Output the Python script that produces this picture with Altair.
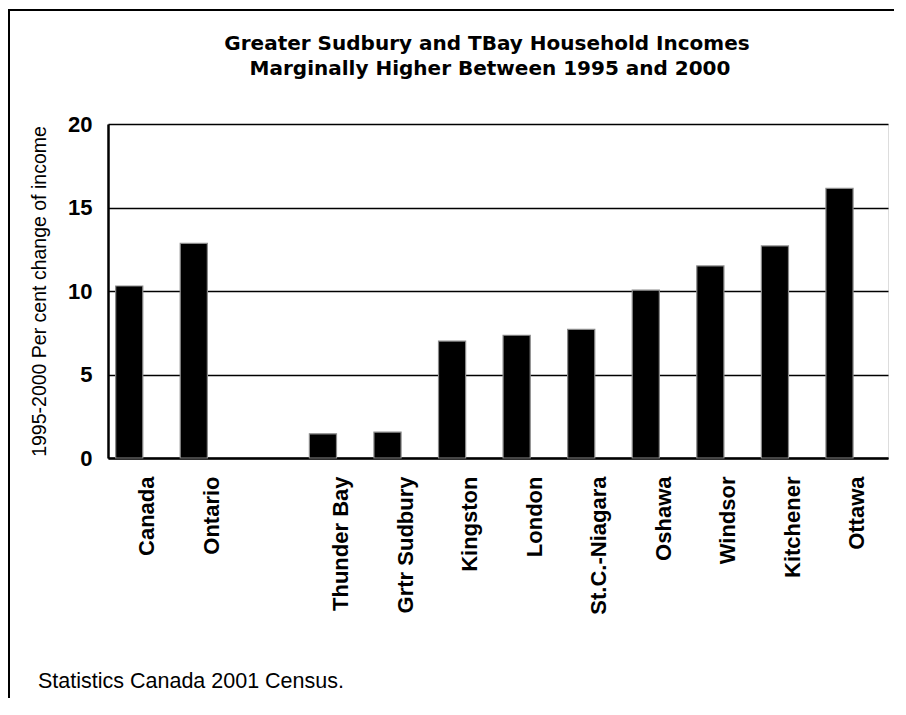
import altair as alt
import pandas as pd

# Data
categories = ["Canada", "Ontario", "Thunder Bay", "Grtr Sudbury", "Kingston",
              "London", "St.C.-Niagara", "Oshawa", "Windsor", "Kitchener", "Ottawa"]
values = [10.3, 12.85, 1.45, 1.55, 7.0, 7.35, 7.7, 10.05, 11.5, 12.7, 16.15]
# Category slots on the axis (one empty gap slot after Ontario)
slot_order = ["Canada", "Ontario", " ", "Thunder Bay", "Grtr Sudbury", "Kingston",
              "London", "St.C.-Niagara", "Oshawa", "Windsor", "Kitchener", "Ottawa"]
y_ticks = [0, 5, 10, 15, 20]

title_lines = ["Greater Sudbury and TBay Household Incomes",
               "Marginally Higher Between 1995 and 2000"]
y_title = "1995-2000 Per cent change of income"
footer = "Statistics Canada 2001 Census."

df = pd.DataFrame({"region": categories, "value": values})

W, H = 780, 334

x_enc = alt.X(
    "region:N",
    sort=slot_order,
    scale=alt.Scale(domain=slot_order, paddingInner=0.58, paddingOuter=0.33, align=0.18),
    axis=alt.Axis(
        title=None,
        labelAngle=270,
        labelFont="Liberation Sans",
        labelFontSize=22,
        labelFontWeight="bold",
        labelColor="black",
        labelPadding=18,
        labelOffset=18,
        ticks=False,
        domain=True,
        domainColor="black",
        domainWidth=2.5,
        labelLimit=300,
    ),
)

y_enc = alt.Y(
    "value:Q",
    scale=alt.Scale(domain=[0, 20], nice=False),
    axis=alt.Axis(
        values=y_ticks,
        title=y_title,
        titleFont="Liberation Sans",
        titleFontSize=19.5,
        titleFontWeight="normal",
        titleColor="black",
        titlePadding=18,
        labelFont="Liberation Sans",
        labelFontSize=22,
        labelFontWeight="bold",
        labelColor="black",
        labelPadding=16,
        ticks=False,
        domain=True,
        domainColor="black",
        domainWidth=2.5,
        grid=True,
        gridColor="black",
        gridWidth=1.5,
    ),
)

bars = alt.Chart(df).mark_bar(
    color="black", stroke="#8a8a8a", strokeWidth=1.2
).encode(x=x_enc, y=y_enc)

one = pd.DataFrame({"k": [0]})
frame_top = alt.Chart(one).mark_rule(color="black", strokeWidth=2).encode(
    x=alt.value(-99), x2=alt.value(900), y=alt.value(-114)
)
frame_left = alt.Chart(one).mark_rule(color="black", strokeWidth=2).encode(
    x=alt.value(-99), y=alt.value(-115), y2=alt.value(700)
)
title1 = alt.Chart(one).mark_text(
    text=title_lines[0], font="DejaVu Sans", fontSize=20, fontWeight="bold",
    align="center", baseline="alphabetic", color="black"
).encode(x=alt.value(379), y=alt.value(-74))
title2 = alt.Chart(one).mark_text(
    text=title_lines[1], font="DejaVu Sans", fontSize=20, fontWeight="bold",
    align="center", baseline="alphabetic", color="black"
).encode(x=alt.value(382), y=alt.value(-49))
foot = alt.Chart(one).mark_text(
    text=footer, font="Liberation Sans", fontSize=21.5, align="left",
    baseline="alphabetic", color="black"
).encode(x=alt.value(-70), y=alt.value(564))

chart = alt.layer(bars, frame_top, frame_left, title1, title2, foot).properties(
    width=W,
    height=H,
    padding={"left": 100, "top": 116, "right": 6, "bottom": 240},
    autosize=alt.AutoSizeParams(type="none"),
).configure_view(stroke="black", strokeWidth=2).configure(background="white")

chart.save("out.html", embed_options={"renderer": "svg", "actions": False})
